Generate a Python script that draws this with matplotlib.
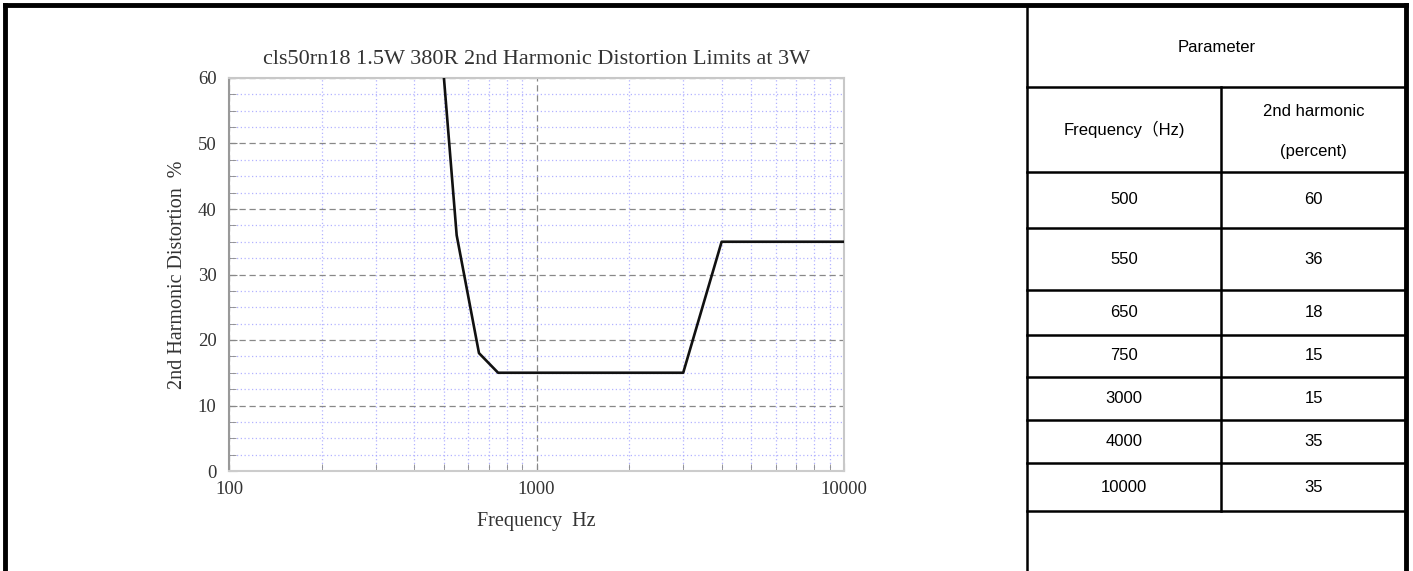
import matplotlib
matplotlib.use("Agg")
import matplotlib.pyplot as plt
from matplotlib.ticker import FixedLocator, MultipleLocator, NullFormatter

# ---- data ----
freq_hz = [500, 550, 650, 750, 3000, 4000, 10000]
harmonic_pct = [60, 36, 18, 15, 15, 35, 35]
x_ticks = [100, 1000, 10000]
x_ticklabels = ["100", "1000", "10000"]
y_ticks = [0, 10, 20, 30, 40, 50, 60]
title = "cls50rn18 1.5W 380R 2nd Harmonic Distortion Limits at 3W"
xlabel = "Frequency  Hz"
ylabel = "2nd Harmonic Distortion  %"
table_header = "Parameter"
col_header_freq = "Frequency\uff08Hz)"
col_header_pct = ["2nd harmonic", "(percent)"]

W, H = 1413, 571
fig = plt.figure(figsize=(W / 100, H / 100), dpi=100)
fig.patch.set_facecolor("white")

serif = ["Liberation Serif", "DejaVu Serif"]
sans = ["Liberation Sans", "Noto Sans CJK SC", "DejaVu Sans"]

# ---- chart ----
l, r, t, b = 229, 844, 78, 471
ax = fig.add_axes([l / W, 1 - b / H, (r - l) / W, (b - t) / H])
ax.plot(freq_hz, harmonic_pct, color="#111111", lw=1.9, zorder=5)
ax.set_xscale("log")
ax.set_xlim(100, 10000)
ax.set_ylim(0, 60)
ax.xaxis.set_major_locator(FixedLocator(x_ticks))
ax.set_xticklabels(x_ticklabels)
ax.xaxis.set_minor_formatter(NullFormatter())
ax.set_yticks(y_ticks)
ax.yaxis.set_minor_locator(MultipleLocator(2.5))

ax.grid(which="major", color="#888888", linestyle=(0, (5, 3)), lw=0.9)
ax.grid(which="minor", color="#a0a0ff", linestyle=(0, (1, 2)), lw=0.9, alpha=0.8)
ax.set_axisbelow(True)

for s in ax.spines.values():
    s.set_color("#c8c8c8")
    s.set_linewidth(1.5)
ax.spines["left"].set_color("#999999")
ax.spines["bottom"].set_color("#cccccc")

ax.tick_params(which="both", direction="in", colors="#888888", labelcolor="#333333",
               labelsize=13.5)
ax.tick_params(which="major", length=6)
ax.tick_params(which="minor", length=5)
ax.tick_params(axis="x", pad=7)
ax.tick_params(axis="y", pad=9)
for lab in ax.get_xticklabels() + ax.get_yticklabels():
    lab.set_family(serif)

ax.set_title(title, fontsize=16, family=serif, color="#333333", pad=10)
ax.set_xlabel(xlabel, fontsize=14.5, family=serif, color="#333333", labelpad=10)
ax.set_ylabel(ylabel, fontsize=14.5, family=serif, color="#333333", labelpad=8)

# ---- frame and table (pixel-coordinate overlay) ----
ov = fig.add_axes([0, 0, 1, 1], zorder=10)
ov.set_xlim(0, W)
ov.set_ylim(H, 0)
ov.axis("off")
ov.patch.set_alpha(0)

# outer frame
ov.plot([5, 5], [H, 5], color="black", lw=3.5, solid_capstyle="projecting")
ov.plot([5, 1406], [5, 5], color="black", lw=3.5, solid_capstyle="projecting")
ov.plot([1406, 1406], [5, H], color="black", lw=3.5, solid_capstyle="projecting")

tl, tm, tr = 1027, 1221, 1406
ov.plot([tl, tl], [5, H], color="black", lw=1.8)
row_edges = [5, 87, 172, 228, 290, 335, 377, 420, 463, 511]
for y in row_edges[1:]:
    ov.plot([tl, tr], [y, y], color="black", lw=1.8)
ov.plot([tm, tm], [row_edges[1], row_edges[-1]], color="black", lw=1.8)

tfs = 12
ov.text((tl + tr) / 2, (row_edges[0] + row_edges[1]) / 2 + 2, table_header,
        ha="center", va="center", fontsize=tfs, family=sans)
ov.text((tl + tm) / 2, (row_edges[1] + row_edges[2]) / 2, col_header_freq,
        ha="center", va="center", fontsize=tfs, family=sans)
hmid = (row_edges[1] + row_edges[2]) / 2
ov.text((tm + tr) / 2, hmid - 18, col_header_pct[0],
        ha="center", va="center", fontsize=tfs, family=sans)
ov.text((tm + tr) / 2, hmid + 22, col_header_pct[1],
        ha="center", va="center", fontsize=tfs, family=sans)
for i, (f, p) in enumerate(zip(freq_hz, harmonic_pct)):
    yc = (row_edges[i + 2] + row_edges[i + 3]) / 2
    ov.text((tl + tm) / 2, yc, str(f), ha="center", va="center", fontsize=tfs, family=sans)
    ov.text((tm + tr) / 2, yc, str(p), ha="center", va="center", fontsize=tfs, family=sans)

fig.savefig("out.png", dpi=100)
